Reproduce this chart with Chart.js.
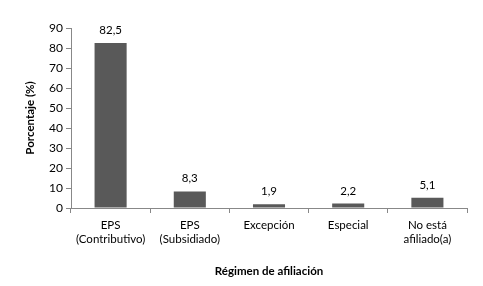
<!DOCTYPE html>
<html>
<head>
<meta charset="utf-8">
<script src="https://cdn.jsdelivr.net/npm/chart.js@4/dist/chart.umd.min.js"></script>
<style>
html,body{margin:0;padding:0;background:#fff;}
#wrap{width:483px;height:286px;position:relative;}
</style>
</head>
<body>
<div id="wrap"><canvas id="c" width="483" height="286"></canvas></div>
<script>
const categories = [["EPS","(Contributivo)"],["EPS","(Subsidiado)"],"Excepción","Especial",["No está","afiliado(a)"]];
const values = [82.5, 8.3, 1.9, 2.2, 5.1];
const valueLabels = ["82,5","8,3","1,9","2,2","5,1"];
const yTicks = [0,10,20,30,40,50,60,70,80,90];

const FONT = "Lato, 'Liberation Sans', sans-serif";
const AXIS = "#888888";

const labelPlugin = {
  id: 'valueLabels',
  afterDatasetsDraw(chart) {
    const ctx = chart.ctx;
    const meta = chart.getDatasetMeta(0);
    ctx.save();
    ctx.font = "11.5px " + FONT;
    ctx.fillStyle = "#000";
    ctx.textAlign = "center";
    ctx.textBaseline = "bottom";
    meta.data.forEach((bar, i) => {
      ctx.fillText(valueLabels[i], bar.x, bar.y - 7);
    });
    ctx.restore();
  }
};

new Chart(document.getElementById('c'), {
  type: 'bar',
  data: {
    labels: categories,
    datasets: [{
      data: values,
      backgroundColor: '#595959',
      borderWidth: 0,
      barPercentage: 0.405,
      categoryPercentage: 1
    }]
  },
  options: {
    responsive: false,
    animation: false,
    devicePixelRatio: 1,
    layout: { padding: { left: 0, right: 16, top: 28, bottom: 0 } },
    plugins: { legend: { display: false }, tooltip: { enabled: false } },
    scales: {
      x: {
        grid: { display: true, drawOnChartArea: false, color: AXIS, tickLength: 5, offset: true },
        border: { color: AXIS },
        ticks: { color: '#000', font: { family: FONT, size: 11.5, lineHeight: 1.25 }, padding: 5, maxRotation: 0, autoSkip: false },
        title: { display: true, text: 'Régimen de afiliación', color: '#000', font: { family: FONT, size: 11.5, weight: 'bold' }, padding: { top: 0, bottom: 8 } },
        afterFit(s) { s.height = 78; }
      },
      y: {
        min: 0, max: 90,
        afterBuildTicks(s) { s.ticks = yTicks.map(v => ({ value: v })); },
        grid: { display: true, drawOnChartArea: false, color: AXIS, tickLength: 5 },
        border: { color: AXIS },
        ticks: { color: '#000', font: { family: FONT, size: 12 }, padding: 3 },
        title: { display: true, text: 'Porcentaje (%)', color: '#000', font: { family: FONT, size: 11.5, weight: 'bold' }, padding: { top: 23, bottom: 0 } },
        afterFit(s) { s.width = 71; }
      }
    }
  },
  plugins: [labelPlugin]
});
</script>
</body>
</html>
